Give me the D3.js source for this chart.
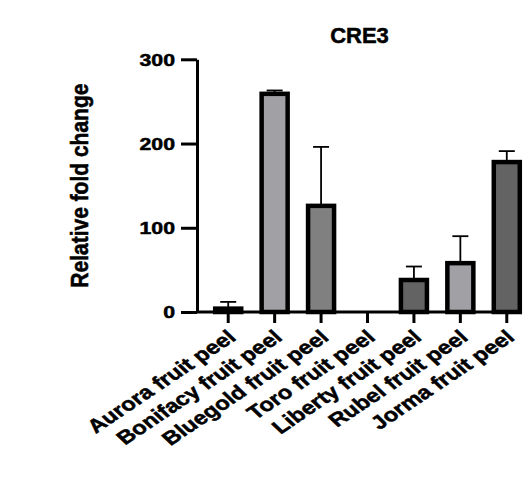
<!DOCTYPE html>
<html>
<head>
<meta charset="utf-8">
<script src="https://cdn.jsdelivr.net/npm/d3@7"></script>
<style>
  body { margin: 0; background: #fff; }
  text { font-family: "Liberation Sans", Arial, sans-serif; font-weight: bold; fill: #000; stroke: #000; stroke-width: 0.5px; }
</style>
</head>
<body>
<div id="chart"></div>
<script>
// values
const categories = ["Aurora fruit peel", "Bonifacy fruit peel", "Bluegold fruit peel", "Toro fruit peel",
                    "Liberty fruit peel", "Rubel fruit peel", "Jorma fruit peel"];
const means = [4, 259, 126, 0, 38, 58, 178];
const errors = [8, 4, 70, 0, 16, 32, 13];
const fills = ["#636363", "#a0a0a5", "#808080", "#636363", "#636363", "#a0a0a5", "#636363"];
const yTicks = [0, 100, 200, 300];

const W = 523, H = 485;
const AXIS_X = 197;          // y axis position
const STRETCH = 1.25;        // the picture looks horizontally stretched

const svg = d3.select("#chart").append("svg")
    .attr("width", W)
    .attr("height", H);

const x = d3.scaleBand()
    .domain(categories)
    .range([205, 530])
    .padding(0);

const y = d3.scaleLinear()
    .domain([0, 300])
    .range([312, 59.3]);

const barW = x.step() * 0.56;
const cx = d => x(d) + x.step() / 2;

// bars
svg.append("g").selectAll("rect")
    .data(categories)
    .join("rect")
    .attr("x", d => cx(d) - barW / 2)
    .attr("width", barW)
    .attr("y", (d, i) => y(means[i]))
    .attr("height", (d, i) => y(0) - y(means[i]))
    .attr("fill", (d, i) => fills[i])
    .attr("stroke", "#000")
    .attr("stroke-width", 4.5)
    .style("display", (d, i) => means[i] > 0 ? null : "none");

// error bars (upper only)
const err = svg.append("g").attr("stroke", "#000").attr("stroke-width", 1.8);
categories.forEach((c, i) => {
    if (errors[i] <= 0) return;
    err.append("line")
        .attr("x1", cx(c)).attr("x2", cx(c))
        .attr("y1", y(means[i])).attr("y2", y(means[i] + errors[i]));
    err.append("line")
        .attr("x1", cx(c) - 8).attr("x2", cx(c) + 8)
        .attr("y1", y(means[i] + errors[i])).attr("y2", y(means[i] + errors[i]));
});

// y axis
const yAxis = svg.append("g").attr("transform", `translate(${AXIS_X},0)`)
    .call(d3.axisLeft(y).tickValues(yTicks).tickSize(16).tickSizeOuter(0).tickPadding(5));
yAxis.select(".domain").attr("stroke-width", 3);
yAxis.selectAll(".tick line").attr("stroke-width", 3);
yAxis.selectAll(".tick text")
    .attr("font-size", 17)
    .attr("x", null)
    .attr("dy", null)
    .attr("dominant-baseline", "central")
    .attr("text-anchor", "end")
    .attr("transform", `translate(-22,0) scale(${STRETCH},1)`);

// x axis
const xAxis = svg.append("g").attr("transform", `translate(0,${y(0)})`);
const xEnd = cx(categories[categories.length - 1]) + barW / 2 + 2.25;
xAxis.append("line")
    .attr("x1", AXIS_X).attr("x2", xEnd)
    .attr("stroke", "#000").attr("stroke-width", 3);
xAxis.selectAll("line.tk")
    .data(categories)
    .join("line")
    .attr("class", "tk")
    .attr("x1", cx).attr("x2", cx)
    .attr("y1", 0).attr("y2", 11)
    .attr("stroke", "#000").attr("stroke-width", 3);
xAxis.selectAll("text")
    .data(categories)
    .join("text")
    .attr("font-size", 19)
    .attr("text-anchor", "end")
    .attr("transform", d => `translate(${cx(d) + 9},${27}) scale(${STRETCH},1) rotate(-40)`)
    .text(d => d);

// title
svg.append("text")
    .attr("x", (AXIS_X + xEnd) / 2)
    .attr("y", 43)
    .attr("text-anchor", "middle")
    .attr("font-size", 22)
    .text("CRE3");

// y label
svg.append("text")
    .attr("text-anchor", "middle")
    .attr("font-size", 21)
    .attr("transform", `translate(88,${(y(0) + y(300)) / 2}) scale(1.15,1) rotate(-90)`)
    .text("Relative fold change");
</script>
</body>
</html>
